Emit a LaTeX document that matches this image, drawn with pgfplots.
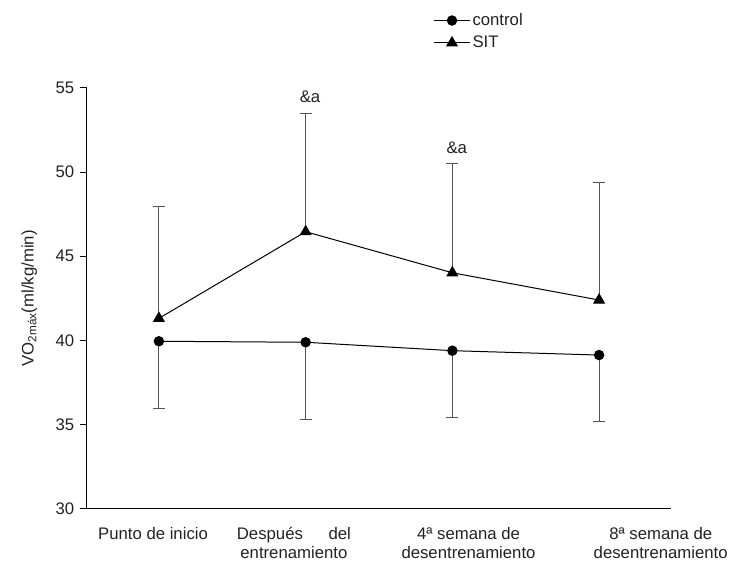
\documentclass[border=0pt]{standalone}
\usepackage{fontspec}
\setmainfont{Liberation Sans}
\usepackage{pgfplots}
\pgfplotsset{compat=1.18}
\definecolor{errgray}{HTML}{555555}
\definecolor{txt}{HTML}{222222}
\newcommand{\ff}{\fontsize{16.8}{20}\selectfont}
\begin{document}
\ff
\begin{tikzpicture}
\begin{axis}[
  width=584bp, height=420.7bp, scale only axis,
  xmin=-0.49, xmax=3.49, ymin=30, ymax=55,
  axis x line*=bottom, axis y line*=left,
  axis line style={line width=1bp, black},
  ytick={30,35,40,45,50,55},
  xtick={-0.04,0.92,2.11,3.42},
  xticklabels={Punto de inicio, {\makebox[114bp][s]{Después\hfill del}\\entrenamiento}, {4ª semana de\\desentrenamiento}, {8ª semana de\\desentrenamiento}},
  x tick style={draw=none},
  y tick style={line width=1bp, black},
  tick align=outside, major tick length=7bp,
  /pgf/number format/assume math mode=true,
  tick label style={font=\ff, text=txt},
  xticklabel style={align=center, anchor=north, yshift=-6bp, font=\fontsize{16.8}{18.5}\selectfont},
  ylabel={VO\textsubscript{2máx}(ml/kg/min)},
  ylabel style={at={(axis description cs:-0.085,0.50)}, anchor=south, inner sep=0pt, font=\ff, text=txt},
  legend style={at={(axis description cs:0.593,1.183)}, anchor=north west, draw=none, fill=none,
    font=\ff, text=txt, row sep=4bp, inner sep=0pt,
    cells={anchor=west, xshift=12bp}},
  legend image code/.code={\draw[mark repeat=2,mark phase=2,#1] plot coordinates {(0bp,0bp) (18bp,0bp) (36bp,0bp)};},
  clip=false,
]
\addplot+[black, line width=1bp, mark=*, mark size=4.7bp, mark options={fill=black, solid},
  error bars/.cd, y dir=minus, y explicit,
  error bar style={errgray, line width=1bp},
  error mark options={rotate=90, mark size=6bp, errgray, line width=1bp}]
  table[x=x, y=y, y error=e] {
  x y e
  0 39.95 3.99
  1 39.89 4.58
  2 39.39 3.96
  3 39.13 3.92
};
\addlegendentry{control}
\addplot+[black, line width=1bp, mark=triangle*, mark size=6bp, mark options={fill=black, solid},
  error bars/.cd, y dir=plus, y explicit,
  error bar style={errgray, line width=1bp},
  error mark options={rotate=90, mark size=6bp, errgray, line width=1bp}]
  table[x=x, y=y, y error=e] {
  x y e
  0 41.31 6.67
  1 46.46 7.01
  2 44.02 6.50
  3 42.40 7.00
};
\addlegendentry{SIT}
\node[anchor=south, inner sep=0pt, text=txt, font=\ff] at (axis cs:1.03,54.1) {\&a};
\node[anchor=south, inner sep=0pt, text=txt, font=\ff] at (axis cs:2.03,51.1) {\&a};
\end{axis}
\pgfresetboundingbox
\useasboundingbox (-87bp,-53.3bp) rectangle (642bp,508.7bp);
\end{tikzpicture}
\end{document}
